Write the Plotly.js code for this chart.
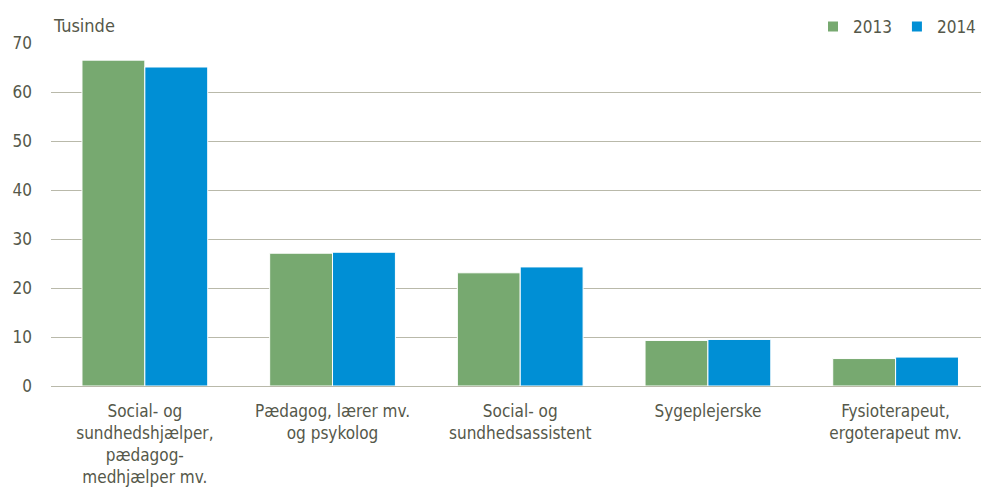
<!DOCTYPE html>
<html><head><meta charset="utf-8">
<script src="https://cdn.plot.ly/plotly-3.0.1.min.js"></script>
<style>html,body{margin:0;padding:0;background:#fff}#c{width:981px;height:495px}</style>
</head><body><div id="c"></div>
<script>
const categories = [
  "Social- og<br>sundhedshjælper,<br>pædagog-<br>medhjælper mv.",
  "Pædagog, lærer mv.<br>og psykolog",
  "Social- og<br>sundhedsassistent",
  "Sygeplejerske",
  "Fysioterapeut,<br>ergoterapeut mv."
];
const values2013 = [66.5, 27.1, 23.1, 9.3, 5.6];
const values2014 = [65.1, 27.3, 24.3, 9.5, 5.9];
const yTicks = [0, 10, 20, 30, 40, 50, 60, 70];

const FONT = '"Liberation Sans Narrow", "DejaVu Sans Condensed", "Liberation Sans", sans-serif';
const TXT = '#55584a';
const GRID = '#b9b9aa';

const traces = [
  {type:'bar', name:'2013', x:categories, y:values2013,
   marker:{color:'#77a970', line:{color:'#ffffff', width:1}}},
  {type:'bar', name:'2014', x:categories, y:values2014,
   marker:{color:'#008fd5', line:{color:'#ffffff', width:1}}}
];

const layout = {
  width:981, height:495,
  margin:{l:51, r:0, t:43, b:109},
  paper_bgcolor:'#fff', plot_bgcolor:'#fff',
  font:{family:FONT, size:17, color:TXT},
  barmode:'group', bargap:0.33, bargroupgap:0,
  showlegend:true,
  legend:{orientation:'h', x:1, xanchor:'right', y:1.047, yanchor:'middle',
          font:{family:FONT, size:17, color:TXT}, traceorder:'normal',
          itemwidth:30, itemsizing:'constant', bgcolor:'rgba(0,0,0,0)'},
  xaxis:{type:'category', range:[-0.5, 4.455], showgrid:false, zeroline:false,
         showline:false, ticks:'', tickangle:0, ticklabelstandoff:13,
         tickfont:{family:FONT, size:17, color:TXT}, fixedrange:true},
  yaxis:{range:[0,70], tickvals:yTicks, showgrid:true, gridcolor:GRID, gridwidth:1,
         zeroline:true, zerolinecolor:GRID, zerolinewidth:1, showline:false,
         ticks:'', ticklabelstandoff:18, tickfont:{family:FONT, size:17, color:TXT}},
  annotations:[{text:'Tusinde', xref:'paper', yref:'paper', x:0, y:1, xanchor:'left',
                yanchor:'bottom', yshift:5, showarrow:false,
                font:{family:FONT, size:18, color:TXT}}]
};
Plotly.newPlot('c', traces, layout, {displayModeBar:false, staticPlot:true});
</script></body></html>
